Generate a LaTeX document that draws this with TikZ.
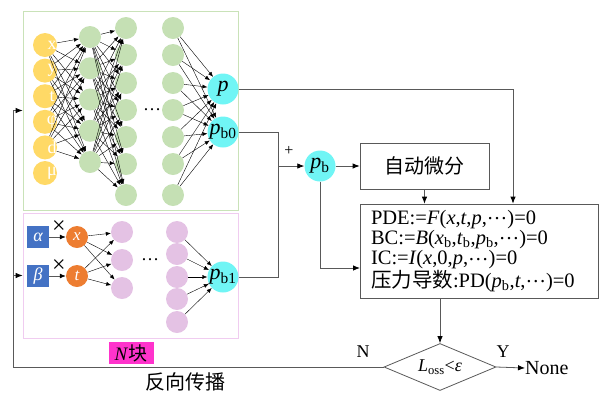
\documentclass[tikz,border=0pt]{standalone}
\usepackage{fontspec}
\setmainfont{Liberation Serif}
\newfontfamily\cjk{Noto Sans CJK SC}
\usetikzlibrary{arrows.meta,shapes.geometric}
\definecolor{yel}{HTML}{FFD966}
\definecolor{grn}{HTML}{C5E0B4}
\definecolor{pnk}{HTML}{E4C2E4}
\definecolor{cyn}{HTML}{70F5F5}
\definecolor{orn}{HTML}{ED7D31}
\definecolor{blu}{HTML}{4472C4}
\definecolor{mag}{HTML}{FF33CC}
\definecolor{gfr}{HTML}{C9E2B8}
\definecolor{pfr}{HTML}{F0CCF0}
\definecolor{lin}{HTML}{595959}
\newcommand\cdts{\raisebox{0.24em}{…}}
\begin{document}
\begin{tikzpicture}[x=1pt,y=-1pt,
  neu/.style={circle,minimum size=22pt,inner sep=0pt},
  yelnode/.style={neu,fill=yel,minimum size=24pt},
  grnnode/.style={neu,fill=grn},
  pnknode/.style={neu,fill=pnk},
  outnode/.style={neu,fill=cyn,minimum size=31pt,font=\fontsize{22}{22}\selectfont},
  ornnode/.style={neu,fill=orn,text=white,font=\fontsize{17}{17}\selectfont\itshape},
  blunode/.style={rectangle,fill=blu,minimum size=22pt,inner sep=0pt,text=white,font=\fontsize{18}{18}\selectfont\itshape},
  net/.style={black,line width=0.4pt,-{Latex[length=5pt,width=4pt]}},
  flow/.style={lin,line width=0.8pt},
  flowarr/.style={flow,arrows={-{Latex[length=7pt,width=5.5pt,color=black]}}},
  boxnode/.style={draw=lin,line width=0.8pt,rectangle,inner sep=0pt},
  txt/.style={font=\fontsize{20}{20}\selectfont,inner sep=0pt}
]
\useasboundingbox (0,0) rectangle (601,392);

% frames
\node[draw=gfr,line width=0.8pt,minimum width=215pt,minimum height=199pt,inner sep=0pt] (gframe) at (130.5,110.5) {};
\node[draw=pfr,line width=0.8pt,minimum width=215pt,minimum height=125pt,inner sep=0pt] (pframe) at (130.5,275.5) {};

% input layer
\foreach \i/\l in {1/x,2/y,3/t,4/φ,5/d,6/μ}{
  \node[yelnode] (y\i) at (45,{45+25.6*(\i-1)}) {};
  \node[text=white,inner sep=0pt,font=\fontsize{18}{18}\selectfont] (yl\i) at ([xshift=7pt]y\i.center) {\l};
}
% hidden layer 1
\foreach \i in {1,...,5}{
  \node[grnnode] (ga\i) at (90,{37+31.25*(\i-1)}) {};
}
% hidden layers 2,3
\foreach \i/\yy in {1/28,2/55,3/83,4/110,5/137,6/164,7/195}{
  \node[grnnode] (gb\i) at (126,\yy) {};
  \node[grnnode] (gc\i) at (173,\yy) {};
}
\node[inner sep=0pt,font=\fontsize{18}{18}\selectfont] (gdots) at (152,112) {\cdts};
\node[outnode] (p) at (223,89) {\textit{p}};
\node[outnode] (pb0) at (223,132) {\textit{p}\textsubscript{b0}};

\foreach \i in {1,...,5}{\foreach \j in {1,...,5}{\draw[net] (y\i) -- (ga\j);}}
\foreach \i in {1,...,5}{\foreach \j in {1,...,7}{\draw[net] (ga\i) -- (gb\j);}}
\foreach \i in {1,...,7}{\draw[net] (gc\i) -- (p); \draw[net] (gc\i) -- (pb0);}

% pink block
\node[blunode] (al) at (38,237) {α};
\node[blunode] (be) at (38,276) {β};
\node[ornnode] (xo) at (77,237) {x};
\node[ornnode] (to) at (77,276) {t};
\draw[lin,line width=0.8pt,arrows={-{Latex[length=6pt,width=5pt,color=black]}}] (al) -- (xo);
\draw[lin,line width=0.8pt,arrows={-{Latex[length=6pt,width=5pt,color=black]}}] (be) -- (to);
\node[inner sep=0pt,font=\fontsize{24}{24}\selectfont] (m1) at (59,227) {×};
\node[inner sep=0pt,font=\fontsize{24}{24}\selectfont] (m2) at (59,266) {×};
\foreach \i/\yy in {1/232,2/260,3/288}{\node[pnknode] (pa\i) at (122,\yy) {};}
\foreach \i/\yy in {1/232,2/254,3/277,4/299,5/322}{\node[pnknode] (pc\i) at (177,\yy) {};}
\node[inner sep=0pt,font=\fontsize{18}{18}\selectfont] (pdots) at (150,262) {\cdts};
\node[outnode] (pb1) at (223,277) {\textit{p}\textsubscript{b1}};
\foreach \j in {1,2,3}{\draw[net] (xo) -- (pa\j); \draw[net] (to) -- (pa\j);}
\foreach \i in {1,...,5}{\draw[net] (pc\i) -- (pb1);}

\node[fill=mag,minimum width=45pt,minimum height=22pt,inner sep=0pt,font=\fontsize{19}{19}\selectfont] (nb) at (131,353) {\textit{N}{\cjk 块}};
\node[txt] (bp) at (185,382) {\cjk 反向传播};

% right part
\node[outnode] (pb) at (320,166) {\textit{p}\textsubscript{b}};
\node[boxnode,minimum width=129pt,minimum height=46pt,txt] (ad) at (424.5,166) {\cjk 自动微分};
\node[boxnode,minimum width=238pt,minimum height=94pt,text width=216pt,inner xsep=11pt,align=left,
  font=\fontsize{20.5}{20.3}\selectfont] (eq) at (479,251)
  {PDE:=\textit{F}(\textit{x},\textit{t},\textit{p},\cdts)=0\\
   BC:=\textit{B}(\textit{x}\textsubscript{b},\textit{t}\textsubscript{b},\textit{p}\textsubscript{b},\cdts)=0\\
   IC:=\textit{I}(\textit{x},0,\textit{p},\cdts)=0\\
   {\cjk 压力导数}:PD(\textit{p}\textsubscript{b},\textit{t},\cdts)=0};
\node[draw=lin,line width=0.8pt,diamond,minimum width=112pt,minimum height=47pt,inner sep=0pt,aspect=2.4,
  font=\fontsize{18}{18}\selectfont] (dia) at (440,367) {\textit{L}\textsubscript{oss}<\textit{ε}};
\node[txt,anchor=west] (none) at (525,368) {None};
\node[txt,font=\fontsize{18}{18}\selectfont] (ylab) at (503,352) {Y};
\node[txt,font=\fontsize{18}{18}\selectfont] (nlab) at (363,352) {N};
\node[inner sep=0pt,font=\fontsize{16}{16}\selectfont] (plus) at (289,151) {+};

\coordinate (pc) at (513,0);
\coordinate (j) at (278,166);
\coordinate (ic) at (360,268);
\coordinate (fbl) at (13,367);

\draw[flowarr] (p.east) -| (pc |- eq.north);
\draw[flow] (pb0.east) -| (j);
\draw[flow] (pb1.east) -| (j);
\draw[flowarr] (j) -- (pb.west);
\draw[flowarr] (pb.east) -- (ad.west);
\draw[flowarr] (pb.south) |- (ic);
\draw[flowarr] (ad.south) -- (ad.south |- eq.north);
\draw[flowarr] (dia.north |- eq.south) -- (dia.north);
\draw[flowarr] (dia.east) -- (none.west);
\draw[flowarr] (dia.west) -- (fbl) |- (gframe.west);
\draw[flowarr] (fbl |- pframe.west) -- (pframe.west);
\end{tikzpicture}
\end{document}
